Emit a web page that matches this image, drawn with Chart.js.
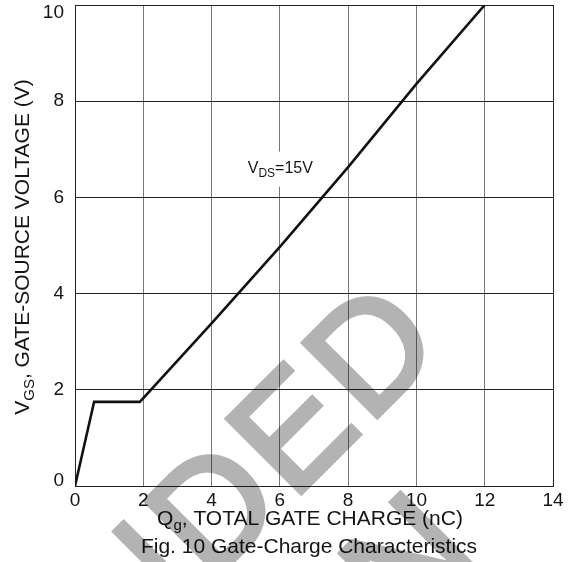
<!DOCTYPE html>
<html>
<head>
<meta charset="utf-8">
<script src="https://cdn.jsdelivr.net/npm/chart.js@4.4.0/dist/chart.umd.min.js"></script>
<style>
  html, body { margin: 0; padding: 0; background: #fff; }
  #wrap { width: 572px; height: 562px; position: relative; }
</style>
</head>
<body>
<div id="wrap"><canvas id="gateChart" width="572" height="562"></canvas></div>
<script>
// Gate charge curve
const qgCharge = [0, 0.56, 1.9, 4, 6, 8, 10, 12];        // nC
const vgsVolts = [0, 1.75, 1.75, 3.38, 4.97, 6.63, 8.36, 10]; // V
const xTicks = [0, 2, 4, 6, 8, 10, 12, 14];
const yTicks = [0, 2, 4, 6, 8, 10];

const FONT = '"Liberation Sans", Arial, Helvetica, sans-serif';
const INK = '#151515';

// draws a string made of [text, isSubscript] parts
function drawParts(ctx, parts, x, y, size, subSize, subDrop, align) {
    let total = 0;
    parts.forEach(p => {
        ctx.font = (p[1] ? subSize : size) + 'px ' + FONT;
        total += ctx.measureText(p[0]).width;
    });
    let cx = align === 'left' ? x : x - total / 2;
    ctx.textAlign = 'left';
    ctx.textBaseline = 'alphabetic';
    parts.forEach(p => {
        ctx.font = (p[1] ? subSize : size) + 'px ' + FONT;
        ctx.fillText(p[0], cx, y + (p[1] ? subDrop : 0));
        cx += ctx.measureText(p[0]).width;
    });
    return total;
}

// grey watermark drawn once on its own canvas, then multiplied over the chart
function makeWatermark(w, h) {
    const c = document.createElement('canvas');
    c.width = w; c.height = h;
    const g = c.getContext('2d');
    g.fillStyle = '#b3b3b3';
    g.strokeStyle = '#b3b3b3';
    g.lineWidth = 5;
    g.translate(446, 348);
    g.rotate(-Math.PI / 4);
    g.font = '152px ' + FONT;
    const w1 = g.measureText('NOT RECOMMENDED').width;
    g.textAlign = 'center';
    g.fillText('FOR NEW DESIGN', -w1 / 2, 175);
    g.strokeText('FOR NEW DESIGN', -w1 / 2, 175);
    // first line a little more spread out
    g.translate(6, 0);
    g.letterSpacing = '6px';
    g.textAlign = 'right';
    g.fillText('NOT RECOMMENDED', 0, 0);
    g.strokeText('NOT RECOMMENDED', 0, 0);
    return c;
}

const labelsPlugin = {
    id: 'labelsPlugin',
    afterDraw(chart) {
        const ctx = chart.ctx;
        const area = chart.chartArea;
        const ys = chart.scales.y;
        ctx.save();
        ctx.fillStyle = INK;

        // y tick labels, end ones pulled inside like the original
        ctx.font = '19px ' + FONT;
        ctx.textAlign = 'right';
        ctx.textBaseline = 'middle';
        yTicks.forEach(v => {
            let py = ys.getPixelForValue(v);
            py = Math.max(area.top + 8, Math.min(area.bottom - 5, py));
            ctx.fillText(String(v), area.left - 11, py);
        });

        // y axis title (rotated)
        ctx.save();
        ctx.translate(29, 247);
        ctx.rotate(-Math.PI / 2);
        drawParts(ctx, [['V', false], ['GS', true], [', GATE-SOURCE VOLTAGE (V)', false]], 0, 0, 21, 15, 5);
        ctx.restore();

        // x axis title and caption
        drawParts(ctx, [['Q', false], ['g', true], [', TOTAL GATE CHARGE (nC)', false]], 310, 525, 21, 15, 5);
        drawParts(ctx, [['Fig. 10 Gate-Charge Characteristics', false]], 309, 553, 21, 15, 0);

        // VDS annotation with white box behind it
        const ax = chart.scales.x.getPixelForValue(5.0);
        const ay = ys.getPixelForValue(6.6);
        ctx.fillStyle = '#fff';
        ctx.fillRect(ax - 3, ay - 17, 74, 35);
        ctx.fillStyle = INK;
        drawParts(ctx, [['V', false], ['DS', true], ['=15V', false]], ax + 2, ay + 4, 16, 12, 4, 'left');

        // watermark
        ctx.globalCompositeOperation = 'multiply';
        ctx.drawImage(makeWatermark(chart.width, chart.height), 0, 0);
        ctx.restore();
    }
};

new Chart(document.getElementById('gateChart'), {
    type: 'scatter',
    data: {
        datasets: [{
            data: qgCharge.map((q, i) => ({ x: q, y: vgsVolts[i] })),
            showLine: true,
            borderColor: '#111',
            borderWidth: 2.6,
            pointRadius: 0,
            tension: 0
        }]
    },
    options: {
        responsive: false,
        animation: false,
        devicePixelRatio: 1,
        layout: { padding: { top: 5, right: 19, bottom: 0, left: 0 } },
        plugins: { legend: { display: false }, tooltip: { enabled: false } },
        scales: {
            x: {
                type: 'linear',
                min: 0, max: 14,
                afterBuildTicks: s => { s.ticks = xTicks.map(v => ({ value: v })); },
                afterFit: s => { s.height = 76; s.paddingLeft = 0; s.paddingRight = 0; },
                ticks: { color: INK, font: { family: FONT, size: 19 }, padding: 3, maxRotation: 0 },
                grid: {
                    color: c => (c.tick && c.tick.value === 14) ? '#222' : '#777',
                    lineWidth: 1,
                    drawTicks: false
                },
                border: { color: '#222', width: 1 }
            },
            y: {
                type: 'linear',
                min: 0, max: 10,
                afterBuildTicks: s => { s.ticks = yTicks.map(v => ({ value: v })); },
                afterFit: s => { s.width = 75; s.paddingTop = 0; s.paddingBottom = 0; },
                ticks: { display: false },
                grid: { color: '#222', lineWidth: 1, drawTicks: false },
                border: { color: '#222', width: 1 }
            }
        }
    },
    plugins: [labelsPlugin]
});
</script>
</body>
</html>
